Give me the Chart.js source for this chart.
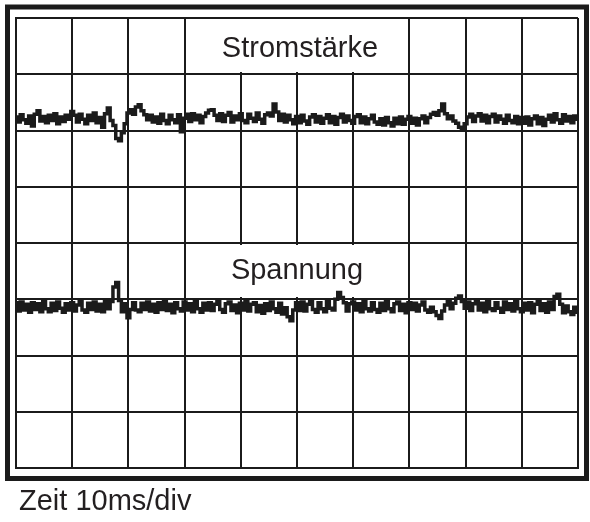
<!DOCTYPE html>
<html>
<head>
<meta charset="utf-8">
<script src="https://cdn.jsdelivr.net/npm/chart.js@4/dist/chart.umd.min.js"></script>
<style>
  body { margin: 0; background: #ffffff; }
  canvas { display: block; }
</style>
</head>
<body>
<canvas id="scope" width="590" height="522"></canvas>
<script>
// time axis: 10 divisions of 10 ms, one sample every 0.5 ms
var SampleStepMs = 0.5;
var TimeTicksMs = [0, 10, 20, 30, 40, 50, 60, 70, 80, 90, 100];
var LevelTicksDiv = [-4, -3, -2, -1, 0, 1, 2, 3, 4];
var TraceNames = ['Stromstärke', 'Spannung'];
var TimeCaption = 'Zeit 10ms/div';

// Stromstärke, in divisions above centre line
var CurrentDiv = [
    2.24, 2.15, 2.28, 2.19, 2.13, 2.26, 2.08, 2.29, 2.35, 2.17,
    2.25, 2.14, 2.27, 2.18, 2.30, 2.12, 2.24, 2.16, 2.27, 2.20,
    2.34, 2.27, 2.15, 2.29, 2.20, 2.12, 2.27, 2.18, 2.31, 2.14,
    2.23, 2.06, 2.30, 2.40, 2.18, 2.09, 1.86, 1.82, 1.96, 2.12,
    2.31, 2.37, 2.29, 2.42, 2.46, 2.35, 2.28, 2.19, 2.27, 2.15,
    2.24, 2.13, 2.29, 2.18, 2.12, 2.27, 2.19, 2.14, 2.28, 1.98,
    2.22, 2.29, 2.16, 2.30, 2.19, 2.27, 2.14, 2.25, 2.31, 2.36,
    2.37, 2.27, 2.18, 2.30, 2.16, 2.27, 2.32, 2.15, 2.26, 2.19,
    2.30, 2.18, 2.14, 2.29, 2.22, 2.16, 2.31, 2.20, 2.13, 2.28,
    2.31, 2.26, 2.47, 2.33, 2.18, 2.29, 2.15, 2.27, 2.19, 2.12,
    2.25, 2.14, 2.27, 2.17, 2.11, 2.24, 2.28, 2.15, 2.25, 2.13,
    2.22, 2.28, 2.14, 2.25, 2.11, 2.23, 2.29, 2.15, 2.26, 2.18,
    2.13, 2.25, 2.28, 2.14, 2.24, 2.12, 2.21, 2.27, 2.15, 2.11,
    2.21, 2.10, 2.23, 2.14, 2.08, 2.22, 2.12, 2.24, 2.11, 2.20,
    2.25, 2.13, 2.22, 2.10, 2.21, 2.26, 2.14, 2.23, 2.29, 2.32,
    2.27, 2.35, 2.47, 2.30, 2.21, 2.26, 2.17, 2.13, 2.06, 2.02,
    2.12, 2.24, 2.29, 2.16, 2.26, 2.30, 2.17, 2.27, 2.14, 2.25,
    2.29, 2.15, 2.26, 2.20, 2.13, 2.27, 2.18, 2.14, 2.25, 2.12,
    2.23, 2.13, 2.24, 2.10, 2.21, 2.26, 2.12, 2.23, 2.09, 2.20,
    2.27, 2.15, 2.30, 2.19, 2.13, 2.28, 2.17, 2.25, 2.14, 2.26, 2.20
];

// Spannung, in divisions above centre line
var VoltageDiv = [
    -1.06, -1.21, -1.05, -1.19, -1.09, -1.23, -1.06, -1.18, -1.08, -1.22,
    -1.04, -1.17, -1.22, -1.07, -1.20, -1.05, -1.16, -1.23, -1.08, -1.19,
    -1.06, -1.21, -1.10, -1.03, -1.19, -1.23, -1.07, -1.18, -1.05, -1.21,
    -1.09, -1.22, -1.03, -1.17, -1.04, -0.78, -0.70, -1.02, -1.22, -1.08,
    -1.33, -1.18, -1.06, -1.19, -1.22, -1.07, -1.18, -1.05, -1.21, -1.09,
    -1.23, -1.06, -1.18, -1.04, -1.20, -1.09, -1.24, -1.06, -1.17, -1.21,
    -1.05, -1.19, -1.08, -1.22, -1.04, -1.17, -1.23, -1.07, -1.19, -1.06,
    -1.20, -1.09, -1.03, -1.18, -1.23, -1.08, -1.05, -1.20, -1.10, -1.24,
    -1.07, -1.19, -1.04, -1.21, -1.09, -1.06, -1.22, -1.11, -1.25, -1.08,
    -1.20, -1.05, -1.17, -1.23, -1.07, -1.26, -1.15, -1.31, -1.38, -1.19,
    -1.06, -1.20, -1.05, -1.21, -1.09, -1.03, -1.18, -1.23, -1.06, -1.17,
    -1.22, -1.04, -1.16, -1.19, -1.00, -0.88, -0.97, -1.06, -1.21, -1.08,
    -1.05, -1.19, -1.08, -1.22, -1.03, -1.17, -1.21, -1.06, -1.18, -1.23,
    -1.07, -1.20, -1.04, -1.17, -1.22, -1.08, -1.05, -1.20, -1.09, -1.24,
    -1.06, -1.18, -1.07, -1.21, -1.10, -1.05, -1.19, -1.23, -1.14, -1.22,
    -1.29, -1.34, -1.21, -1.10, -1.04, -1.17, -1.07, -0.98, -0.94, -1.04,
    -1.16, -1.05, -1.20, -1.08, -1.03, -1.19, -1.07, -1.22, -1.04, -1.17,
    -1.20, -1.06, -1.16, -1.23, -1.05, -1.18, -1.08, -1.21, -1.03, -1.17,
    -1.22, -1.07, -1.19, -1.06, -1.24, -1.09, -1.04, -1.20, -1.08, -1.23,
    -1.05, -1.18, -0.95, -0.91, -1.09, -1.24, -1.12, -1.22, -1.27, -1.14, -1.23
];

var _Ink = '#1b1b1b';
var _Font = '"Liberation Sans", Arial, sans-serif';

function getTracePoints(_values) {
    var _points = [];
    for (var i = 0; i < _values.length; i++) {
        _points.push({ x: i * SampleStepMs, y: _values[i] });
    }
    return _points;
}

function getTraceDataset(_label, _values) {
    return {
        label: _label,
        data: getTracePoints(_values),
        stepped: 'middle',
        borderColor: _Ink,
        borderWidth: 3.5,
        pointRadius: 0,
        fill: false
    };
}

// white boxes with the trace names, plus the outer frame and time caption
var scopeDecor = {
    id: 'scopeDecor',
    beforeDatasetsDraw: function (chart) {
        var ctx = chart.ctx;
        var _boxes = [
            { text: TraceNames[0], x: 198, y: 19, w: 199, h: 53, tx: 300, ty: 57 },
            { text: TraceNames[1], x: 192, y: 245, w: 210, h: 52, tx: 297, ty: 279 }
        ];
        ctx.save();
        for (var i = 0; i < _boxes.length; i++) {
            var b = _boxes[i];
            ctx.fillStyle = '#ffffff';
            ctx.fillRect(b.x, b.y, b.w, b.h);
            ctx.fillStyle = '#231f20';
            ctx.font = '29px ' + _Font;
            ctx.textAlign = 'center';
            ctx.textBaseline = 'alphabetic';
            ctx.fillText(b.text, b.tx, b.ty);
        }
        ctx.restore();
    },
    afterDraw: function (chart) {
        var ctx = chart.ctx;
        ctx.save();
        ctx.strokeStyle = _Ink;
        ctx.lineWidth = 5;
        ctx.strokeRect(7.5, 7, 579, 471.5);
        ctx.fillStyle = '#231f20';
        ctx.font = '29px ' + _Font;
        ctx.textAlign = 'left';
        ctx.textBaseline = 'alphabetic';
        ctx.fillText(TimeCaption, 19, 510);
        ctx.restore();
    }
};

function gridAxis(_ticks) {
    return {
        type: 'linear',
        min: _ticks[0],
        max: _ticks[_ticks.length - 1],
        afterBuildTicks: function (axis) {
            axis.ticks = _ticks.map(function (v) { return { value: v }; });
        },
        ticks: { display: false },
        grid: { color: _Ink, lineWidth: 2, drawTicks: false },
        border: { color: _Ink, width: 2 }
    };
}

var ctx = document.getElementById('scope');
var ScopeChart = new Chart(ctx, {
    type: 'line',
    data: {
        datasets: [
            getTraceDataset(TraceNames[0], CurrentDiv),
            getTraceDataset(TraceNames[1], VoltageDiv)
        ]
    },
    options: {
        responsive: false,
        animation: false,
        layout: { padding: { left: 16, right: 12, top: 18, bottom: 54 } },
        plugins: { legend: { display: false }, tooltip: { enabled: false } },
        scales: {
            x: gridAxis(TimeTicksMs),
            y: gridAxis(LevelTicksDiv)
        }
    },
    plugins: [scopeDecor]
});
</script>
</body>
</html>
